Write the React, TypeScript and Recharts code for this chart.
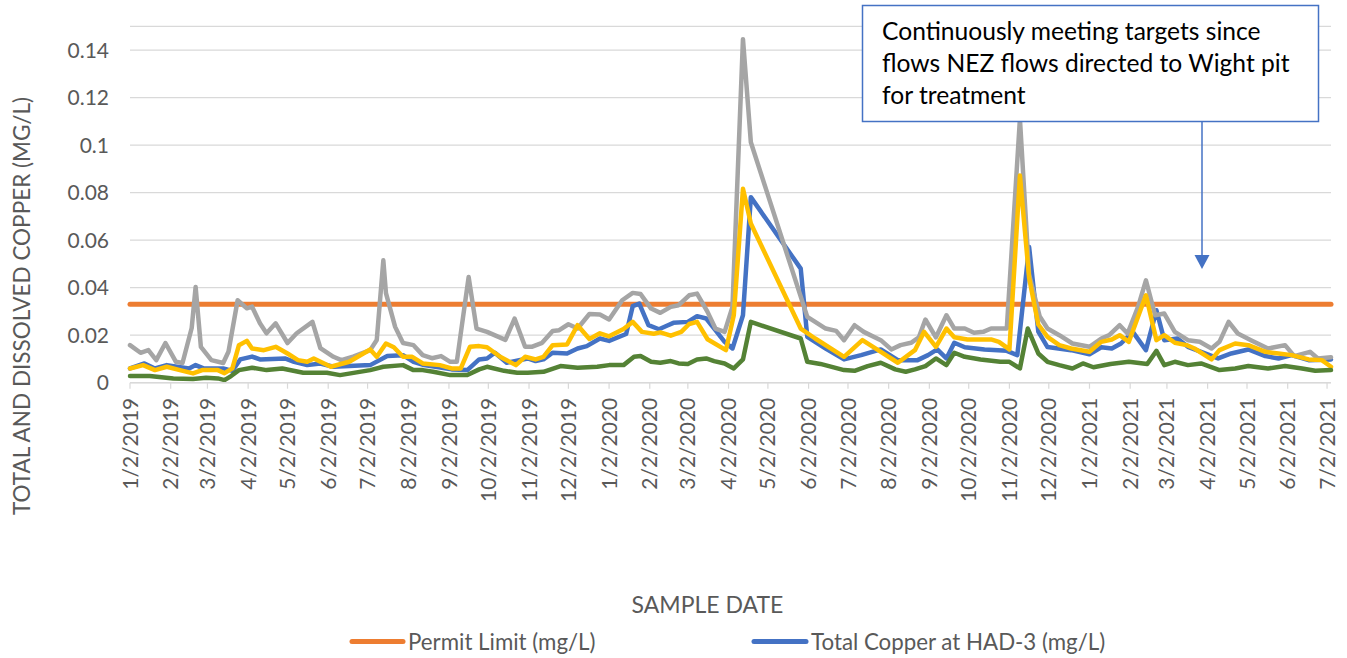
import React from 'react';
import { LineChart, Line, XAxis, YAxis, CartesianGrid } from 'recharts';

const FONT = 'Lato, "Open Sans", sans-serif';
const TEXT = '#595959';

const permitLimit = 0.033;
const permitDates = ['2019-01-02', '2021-07-05'];

const xTickLabels = [
  '1/2/2019', '2/2/2019', '3/2/2019', '4/2/2019', '5/2/2019', '6/2/2019', '7/2/2019', '8/2/2019',
  '9/2/2019', '10/2/2019', '11/2/2019', '12/2/2019', '1/2/2020', '2/2/2020', '3/2/2020', '4/2/2020',
  '5/2/2020', '6/2/2020', '7/2/2020', '8/2/2020', '9/2/2020', '10/2/2020', '11/2/2020', '12/2/2020',
  '1/2/2021', '2/2/2021', '3/2/2021', '4/2/2021', '5/2/2021', '6/2/2021', '7/2/2021',
];
const yTicks = [0, 0.02, 0.04, 0.06, 0.08, 0.1, 0.12, 0.14];

// Total Copper at HAD-3 (blue)
const totalCopperHad3: [string, number][] = [
  ['2019-01-02', 0.006], ['2019-01-13', 0.0081], ['2019-01-21', 0.006], ['2019-01-30', 0.0074],
  ['2019-02-16', 0.006], ['2019-02-21', 0.0074], ['2019-02-27', 0.006], ['2019-03-14', 0.006],
  ['2019-03-21', 0.005], ['2019-03-27', 0.0098], ['2019-04-05', 0.011], ['2019-04-11', 0.0098],
  ['2019-04-30', 0.0102], ['2019-05-07', 0.0088], ['2019-05-17', 0.0074], ['2019-05-27', 0.0081],
  ['2019-06-06', 0.0067], ['2019-07-04', 0.0074], ['2019-07-17', 0.0112], ['2019-07-29', 0.0116],
  ['2019-08-06', 0.0088], ['2019-08-14', 0.0074], ['2019-09-04', 0.0056], ['2019-09-16', 0.0053],
  ['2019-09-25', 0.0098], ['2019-10-01', 0.0102], ['2019-10-07', 0.0126], ['2019-10-16', 0.0084],
  ['2019-11-01', 0.0102], ['2019-11-07', 0.0091], ['2019-11-13', 0.0098], ['2019-11-20', 0.0126],
  ['2019-12-01', 0.0123], ['2019-12-09', 0.0144], ['2019-12-16', 0.0154], ['2019-12-26', 0.0186],
  ['2020-01-02', 0.0176], ['2020-01-15', 0.0205], ['2020-01-20', 0.0322], ['2020-01-25', 0.0333],
  ['2020-02-01', 0.0242], ['2020-02-09', 0.0225], ['2020-02-15', 0.024], ['2020-02-20', 0.0252],
  ['2020-03-02', 0.0256], ['2020-03-09', 0.028], ['2020-03-16', 0.027], ['2020-03-23', 0.0221],
  ['2020-03-30', 0.0172], ['2020-04-05', 0.0144], ['2020-04-13', 0.0284], ['2020-04-19', 0.0781],
  ['2020-05-27', 0.048], ['2020-06-01', 0.0193], ['2020-06-15', 0.0144], ['2020-06-29', 0.0098],
  ['2020-07-12', 0.0116], ['2020-07-27', 0.014], ['2020-08-09', 0.0095], ['2020-08-24', 0.0095],
  ['2020-09-01', 0.0116], ['2020-09-08', 0.014], ['2020-09-15', 0.0102], ['2020-09-21', 0.0168],
  ['2020-09-29', 0.0149], ['2020-10-14', 0.014], ['2020-10-31', 0.0134], ['2020-11-08', 0.0116],
  ['2020-11-17', 0.0571], ['2020-11-24', 0.0215], ['2020-12-01', 0.015], ['2020-12-19', 0.0137],
  ['2021-01-02', 0.012], ['2021-01-11', 0.0149], ['2021-01-19', 0.0144], ['2021-01-26', 0.0165],
  ['2021-02-04', 0.0214], ['2021-02-14', 0.0137], ['2021-02-22', 0.0305], ['2021-02-28', 0.0179],
  ['2021-03-10', 0.0186], ['2021-03-18', 0.0151], ['2021-03-28', 0.013], ['2021-04-10', 0.0102],
  ['2021-04-20', 0.0123], ['2021-05-03', 0.014], ['2021-05-16', 0.0112], ['2021-05-26', 0.0102],
  ['2021-06-05', 0.0116], ['2021-06-18', 0.0095], ['2021-07-05', 0.0098],
];

// grey series
const totalCopperNez: [string, number][] = [
  ['2019-01-02', 0.0158], ['2019-01-10', 0.0126], ['2019-01-16', 0.0137], ['2019-01-22', 0.0095],
  ['2019-01-29', 0.0167], ['2019-02-06', 0.0088], ['2019-02-11', 0.0083], ['2019-02-18', 0.023],
  ['2019-02-21', 0.0403], ['2019-02-25', 0.0151], ['2019-03-05', 0.0095], ['2019-03-14', 0.0083],
  ['2019-03-18', 0.013], ['2019-03-25', 0.0347], ['2019-04-01', 0.0313], ['2019-04-05', 0.032],
  ['2019-04-11', 0.025], ['2019-04-16', 0.0208], ['2019-04-23', 0.025], ['2019-05-02', 0.0167],
  ['2019-05-09', 0.0208], ['2019-05-21', 0.0256], ['2019-05-27', 0.0146], ['2019-06-06', 0.0109],
  ['2019-06-12', 0.0095], ['2019-06-21', 0.011], ['2019-07-04', 0.0137], ['2019-07-09', 0.018],
  ['2019-07-14', 0.0515], ['2019-07-16', 0.0377], ['2019-07-23', 0.0235], ['2019-07-29', 0.0167],
  ['2019-08-06', 0.0158], ['2019-08-13', 0.0116], ['2019-08-20', 0.0103], ['2019-08-27', 0.0112],
  ['2019-09-03', 0.0088], ['2019-09-08', 0.0088], ['2019-09-17', 0.0445], ['2019-09-23', 0.0228],
  ['2019-10-01', 0.0214], ['2019-10-15', 0.018], ['2019-10-22', 0.027], ['2019-10-30', 0.0151],
  ['2019-11-04', 0.0151], ['2019-11-12', 0.0168], ['2019-11-20', 0.0218], ['2019-11-25', 0.0221],
  ['2019-12-02', 0.0246], ['2019-12-09', 0.0228], ['2019-12-18', 0.0289], ['2019-12-26', 0.0287],
  ['2020-01-02', 0.0266], ['2020-01-12', 0.0347], ['2020-01-20', 0.0378], ['2020-01-26', 0.0373],
  ['2020-02-03', 0.0312], ['2020-02-10', 0.0294], ['2020-02-18', 0.0319], ['2020-02-24', 0.0326],
  ['2020-03-03', 0.0368], ['2020-03-09', 0.0375], ['2020-03-17', 0.0298], ['2020-03-23', 0.0228],
  ['2020-03-30', 0.0214], ['2020-04-05', 0.0319], ['2020-04-13', 0.1446], ['2020-04-19', 0.1012],
  ['2020-06-01', 0.0277], ['2020-06-07', 0.0256], ['2020-06-15', 0.0228], ['2020-06-23', 0.0218],
  ['2020-06-29', 0.0179], ['2020-07-07', 0.0242], ['2020-07-14', 0.0214], ['2020-07-27', 0.0179],
  ['2020-08-04', 0.014], ['2020-08-11', 0.0158], ['2020-08-19', 0.0168], ['2020-08-25', 0.0191],
  ['2020-08-30', 0.0266], ['2020-09-07', 0.0191], ['2020-09-15', 0.0284], ['2020-09-21', 0.0228],
  ['2020-09-29', 0.0228], ['2020-10-06', 0.021], ['2020-10-13', 0.0214], ['2020-10-19', 0.0228],
  ['2020-10-31', 0.0228], ['2020-11-10', 0.111], ['2020-11-17', 0.0456], ['2020-11-25', 0.028],
  ['2020-12-01', 0.0228], ['2020-12-10', 0.02], ['2020-12-20', 0.0165], ['2021-01-02', 0.0151],
  ['2021-01-11', 0.0186], ['2021-01-17', 0.02], ['2021-01-25', 0.0242], ['2021-01-31', 0.0207],
  ['2021-02-08', 0.0319], ['2021-02-14', 0.0431], ['2021-02-21', 0.0284], ['2021-02-28', 0.0291],
  ['2021-03-08', 0.0214], ['2021-03-18', 0.0179], ['2021-03-27', 0.0172], ['2021-04-05', 0.0144],
  ['2021-04-11', 0.0172], ['2021-04-18', 0.0256], ['2021-04-25', 0.0207], ['2021-05-05', 0.0179],
  ['2021-05-18', 0.0144], ['2021-05-31', 0.0158], ['2021-06-07', 0.0112], ['2021-06-19', 0.013],
  ['2021-06-25', 0.0102], ['2021-07-05', 0.0107],
];

// yellow series
const dissolvedCopperNez: [string, number][] = [
  ['2019-01-02', 0.006], ['2019-01-12', 0.0074], ['2019-01-21', 0.0053], ['2019-01-30', 0.0067],
  ['2019-02-09', 0.0053], ['2019-02-19', 0.0039], ['2019-02-26', 0.0053], ['2019-03-10', 0.0053],
  ['2019-03-15', 0.004], ['2019-03-21', 0.006], ['2019-03-26', 0.0158], ['2019-04-01', 0.0176],
  ['2019-04-05', 0.0144], ['2019-04-14', 0.0137], ['2019-04-23', 0.0151], ['2019-05-02', 0.0123],
  ['2019-05-10', 0.0095], ['2019-05-17', 0.0088], ['2019-05-22', 0.0102], ['2019-06-04', 0.0067],
  ['2019-06-18', 0.0088], ['2019-07-04', 0.014], ['2019-07-09', 0.0109], ['2019-07-16', 0.0165],
  ['2019-07-22', 0.0149], ['2019-07-29', 0.0109], ['2019-08-05', 0.0109], ['2019-08-13', 0.0081],
  ['2019-08-26', 0.0074], ['2019-09-04', 0.006], ['2019-09-11', 0.006], ['2019-09-18', 0.0151],
  ['2019-09-25', 0.0154], ['2019-10-01', 0.0149], ['2019-10-11', 0.0109], ['2019-10-23', 0.0074],
  ['2019-10-30', 0.0109], ['2019-11-07', 0.0098], ['2019-11-13', 0.0109], ['2019-11-20', 0.0158],
  ['2019-12-01', 0.0161], ['2019-12-09', 0.0242], ['2019-12-18', 0.0184], ['2019-12-26', 0.0208],
  ['2020-01-02', 0.0195], ['2020-01-13', 0.0226], ['2020-01-20', 0.0256], ['2020-01-27', 0.0214],
  ['2020-02-05', 0.0206], ['2020-02-10', 0.0212], ['2020-02-18', 0.0198], ['2020-02-26', 0.0214],
  ['2020-03-03', 0.0247], ['2020-03-09', 0.0256], ['2020-03-17', 0.0183], ['2020-03-31', 0.0137],
  ['2020-04-06', 0.0284], ['2020-04-13', 0.0816], ['2020-04-19', 0.067], ['2020-05-27', 0.0228],
  ['2020-06-07', 0.0186], ['2020-06-29', 0.0109], ['2020-07-13', 0.0179], ['2020-07-25', 0.0137],
  ['2020-08-09', 0.0084], ['2020-08-22', 0.0137], ['2020-08-29', 0.0214], ['2020-09-07', 0.0151],
  ['2020-09-15', 0.0228], ['2020-09-21', 0.0191], ['2020-10-01', 0.0182], ['2020-10-19', 0.0182],
  ['2020-10-25', 0.0172], ['2020-11-02', 0.014], ['2020-11-10', 0.0872], ['2020-11-17', 0.0441],
  ['2020-11-24', 0.0245], ['2020-12-01', 0.0193], ['2020-12-10', 0.0158], ['2020-12-19', 0.0144],
  ['2021-01-02', 0.013], ['2021-01-11', 0.0172], ['2021-01-19', 0.0182], ['2021-01-25', 0.02],
  ['2021-02-01', 0.0172], ['2021-02-14', 0.0368], ['2021-02-22', 0.0179], ['2021-02-28', 0.02],
  ['2021-03-08', 0.0168], ['2021-03-17', 0.0158], ['2021-03-23', 0.0144], ['2021-04-05', 0.0098],
  ['2021-04-11', 0.0137], ['2021-04-23', 0.0165], ['2021-05-03', 0.0158], ['2021-05-16', 0.013],
  ['2021-05-26', 0.0123], ['2021-06-05', 0.0116], ['2021-06-18', 0.0098], ['2021-06-28', 0.0095],
  ['2021-07-05', 0.0067],
];

// green series
const dissolvedCopperHad3: [string, number][] = [
  ['2019-01-02', 0.0028], ['2019-01-17', 0.0028], ['2019-02-04', 0.0018], ['2019-02-19', 0.0016],
  ['2019-03-01', 0.0021], ['2019-03-10', 0.0018], ['2019-03-15', 0.0011], ['2019-03-20', 0.0028],
  ['2019-03-26', 0.0053], ['2019-04-05', 0.0063], ['2019-04-16', 0.0053], ['2019-04-28', 0.006],
  ['2019-05-14', 0.0042], ['2019-06-01', 0.0042], ['2019-06-11', 0.0032], ['2019-07-04', 0.0053],
  ['2019-07-14', 0.0067], ['2019-07-29', 0.0074], ['2019-08-06', 0.0053], ['2019-08-13', 0.0053],
  ['2019-08-21', 0.0046], ['2019-09-03', 0.0032], ['2019-09-16', 0.0032], ['2019-09-25', 0.0056],
  ['2019-10-01', 0.0067], ['2019-10-14', 0.005], ['2019-10-24', 0.0042], ['2019-11-01', 0.0042],
  ['2019-11-13', 0.0046], ['2019-11-26', 0.007], ['2019-12-09', 0.0063], ['2019-12-24', 0.0067],
  ['2020-01-02', 0.0074], ['2020-01-13', 0.0074], ['2020-01-21', 0.0109], ['2020-01-26', 0.0112],
  ['2020-02-03', 0.0088], ['2020-02-10', 0.0084], ['2020-02-18', 0.0091], ['2020-02-24', 0.0081],
  ['2020-03-02', 0.0079], ['2020-03-09', 0.0098], ['2020-03-16', 0.0102], ['2020-03-22', 0.0091],
  ['2020-03-30', 0.0081], ['2020-04-06', 0.006], ['2020-04-13', 0.0098], ['2020-04-19', 0.0256],
  ['2020-05-27', 0.0186], ['2020-06-01', 0.0088], ['2020-06-11', 0.0079], ['2020-06-29', 0.0053],
  ['2020-07-07', 0.005], ['2020-07-17', 0.007], ['2020-07-27', 0.0084], ['2020-08-07', 0.0056],
  ['2020-08-15', 0.0046], ['2020-08-22', 0.0056], ['2020-08-30', 0.007], ['2020-09-07', 0.0102],
  ['2020-09-15', 0.0074], ['2020-09-21', 0.0126], ['2020-09-29', 0.0109], ['2020-10-11', 0.0098],
  ['2020-10-26', 0.0088], ['2020-11-02', 0.0088], ['2020-11-10', 0.006], ['2020-11-16', 0.0228],
  ['2020-11-24', 0.0123], ['2020-12-01', 0.0088], ['2020-12-10', 0.0074], ['2020-12-20', 0.006],
  ['2020-12-28', 0.0081], ['2021-01-05', 0.0065], ['2021-01-18', 0.0079], ['2021-02-01', 0.0088],
  ['2021-02-15', 0.0079], ['2021-02-22', 0.0134], ['2021-02-28', 0.0074], ['2021-03-08', 0.0088],
  ['2021-03-18', 0.0074], ['2021-03-28', 0.0081], ['2021-04-11', 0.0053], ['2021-04-23', 0.006],
  ['2021-05-03', 0.007], ['2021-05-18', 0.006], ['2021-05-31', 0.007], ['2021-06-13', 0.006],
  ['2021-06-23', 0.005], ['2021-07-05', 0.0053],
];

const toTs = (iso: string) => Date.parse(iso + 'T00:00:00Z');
const labelToTs = (l: string) => {
  const [m, d, y] = l.split('/').map(Number);
  return Date.UTC(y, m - 1, d);
};
const fmtDate = (ts: number) => {
  const dt = new Date(ts);
  return `${dt.getUTCMonth() + 1}/${dt.getUTCDate()}/${dt.getUTCFullYear()}`;
};
const build = (rows: [string, number][]) => rows.map(([d, v]) => ({ t: toTs(d), v }));

const permitData = permitDates.map((d) => ({ t: toTs(d), v: permitLimit }));
const xTicks = xTickLabels.map(labelToTs);
const xDomain = [toTs('2019-01-02'), toTs('2021-07-05')];

const series = [
  { name: 'Permit Limit (mg/L)', color: '#ED7D31', data: permitData, width: 5 },
  { name: 'Total Copper at HAD-3 (mg/L)', color: '#4472C4', data: build(totalCopperHad3), width: 4.5 },
  { name: 'Total Copper at NEZ (mg/L)', color: '#A5A5A5', data: build(totalCopperNez), width: 4.5 },
  { name: 'Dissolved Copper at NEZ (mg/L)', color: '#FFC000', data: build(dissolvedCopperNez), width: 4.5 },
  { name: 'Dissolved Copper at HAD-3 (mg/L)', color: '#548235', data: build(dissolvedCopperHad3), width: 4.5 },
];

const XTick = (props: any) => {
  const { x, y, payload } = props;
  return (
    <text
      x={x}
      y={y}
      transform={`rotate(-90, ${x}, ${y})`}
      textAnchor="end"
      dy="0.36em"
      fontSize={21}
      fill={TEXT}
      fontFamily={FONT}
    >
      {fmtDate(payload.value)}
    </text>
  );
};

export default function App() {
  return (
    <div style={{ position: 'absolute', left: 0, top: 0, width: 1347, height: 658, background: '#fff' }}>
      <LineChart
        width={1347}
        height={658}
        margin={{ top: 26.3, right: 16, bottom: 155.3, left: 0 }}
      >
        <CartesianGrid vertical={false} stroke="#D9D9D9" strokeWidth={1.2} />
        <XAxis
          dataKey="t"
          type="number"
          domain={xDomain}
          ticks={xTicks}
          allowDuplicatedCategory={false}
          height={120}
          interval={0}
          axisLine={{ stroke: '#D9D9D9', strokeWidth: 1.5 }}
          tickLine={{ stroke: '#D9D9D9', strokeWidth: 1.2 }}
          tickSize={6}
          tickMargin={9}
          tick={<XTick />}
        />
        <YAxis
          type="number"
          domain={[0, 0.15]}
          ticks={yTicks}
          width={130}
          axisLine={false}
          tickLine={false}
          tickSize={0}
          tickMargin={21}
          interval={0}
          tick={{ fontSize: 21, fill: TEXT, fontFamily: FONT }}
        />
        {series.map((s) => (
          <Line
            key={s.name}
            name={s.name}
            data={s.data}
            dataKey="v"
            type="linear"
            stroke={s.color}
            strokeWidth={s.width}
            strokeLinejoin="round"
            strokeLinecap="round"
            dot={false}
            activeDot={false}
            isAnimationActive={false}
          />
        ))}
      </LineChart>
      <svg
        width={1347}
        height={658}
        style={{ position: 'absolute', left: 0, top: 0, pointerEvents: 'none' }}
        fontFamily={FONT}
      >
        <text
          transform="translate(21,306) rotate(-90)"
          textAnchor="middle"
          dominantBaseline="central"
          fontSize={22.5}
          fill={TEXT}
        >
          TOTAL AND DISSOLVED COPPER (MG/L)
        </text>
        <text x={707.5} y={604} textAnchor="middle" dominantBaseline="central" fontSize={23} fill={TEXT}>
          SAMPLE DATE
        </text>
        <line x1={352} y1={641.5} x2={403} y2={641.5} stroke="#ED7D31" strokeWidth={5} strokeLinecap="round" />
        <text x={408} y={641.5} dominantBaseline="central" fontSize={22.3} fill={TEXT}>
          {series[0].name}
        </text>
        <line x1={754} y1={641.5} x2={806} y2={641.5} stroke="#4472C4" strokeWidth={5} strokeLinecap="round" />
        <text x={811} y={641.5} dominantBaseline="central" fontSize={22.3} fill={TEXT}>
          {series[1].name}
        </text>
        <rect x={862.5} y={5.5} width={456} height={116} fill="#fff" stroke="#4472C4" strokeWidth={1.5} />
        <text fontSize={24.6} fill="#000">
          <tspan x={882} y={40}>Continuously meeting targets since</tspan>
          <tspan x={882} y={72}>flows NEZ flows directed to Wight pit</tspan>
          <tspan x={882} y={103.5}>for treatment</tspan>
        </text>
        <line x1={1202} y1={121.5} x2={1202} y2={258} stroke="#4472C4" strokeWidth={1.5} />
        <polygon points="1194.5,255 1209.5,255 1202,269" fill="#4472C4" />
      </svg>
    </div>
  );
}
